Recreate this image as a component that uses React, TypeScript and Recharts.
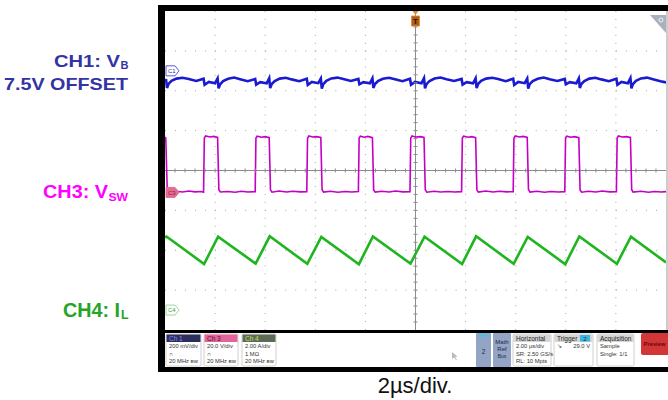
import React from 'react';
import { ComposedChart, Line, XAxis, YAxis, ReferenceLine, ReferenceDot, Scatter } from 'recharts';

// Horizontal: 2 µs/div, 10 divisions. Vertical: 8 divisions.
const TIME_TICKS = [0, 2, 4, 6, 8, 10, 12, 14, 16, 18, 20];
const DIV_TICKS = [-4, -3, -2, -1, 0, 1, 2, 3, 4];
const GRID_TIMES = [2, 4, 6, 8, 12, 14, 16, 18];
const GRID_DIVS = [-3, -2, -1, 1, 2, 3];

// Channel settings: scale per division and on-screen position (divisions)
const CH1_MV_PER_DIV = 200;
const CH1_POS = 2.5;
const CH3_V_PER_DIV = 20;
const CH3_POS = -0.55;
const CH4_A_PER_DIV = 2;
const CH4_POS = -3.5;

// CH1: V_B ripple, mV relative to the 7.5 V offset  [t µs, mV]
const ch1Trace: [number, number][] = [
  [0, -58], [0.04, -42], [0.08, -86], [0.14, -66], [0.26, -50], [0.46, -39], [0.7, -35], [0.95, -41], [1.25, -51], [1.54, -40], [1.58, -70], [1.75, -56], [2.0, -62],
  [2.1, -38], [2.14, -88], [2.2, -68], [2.32, -52], [2.52, -40], [2.76, -34], [3.0, -42], [3.3, -52], [3.6, -41], [3.64, -69], [3.8, -57], [4.06, -63],
  [4.16, -37], [4.2, -87], [4.26, -66], [4.38, -51], [4.58, -39], [4.82, -35], [5.06, -43], [5.36, -52], [5.66, -40], [5.7, -71], [5.86, -56], [6.12, -62],
  [6.22, -39], [6.26, -89], [6.32, -67], [6.44, -50], [6.64, -38], [6.88, -34], [7.12, -41], [7.42, -51], [7.72, -41], [7.76, -68], [7.92, -57], [8.18, -63],
  [8.28, -38], [8.32, -86], [8.38, -66], [8.5, -52], [8.7, -40], [8.94, -35], [9.18, -42], [9.48, -52], [9.78, -40], [9.82, -70], [9.98, -56], [10.24, -62],
  [10.34, -37], [10.38, -88], [10.44, -67], [10.56, -51], [10.76, -39], [11.0, -34], [11.24, -42], [11.54, -51], [11.84, -41], [11.88, -69], [12.04, -57], [12.3, -63],
  [12.4, -38], [12.44, -87], [12.5, -66], [12.62, -50], [12.82, -39], [13.06, -35], [13.3, -41], [13.6, -52], [13.9, -40], [13.94, -71], [14.1, -56], [14.36, -62],
  [14.46, -39], [14.5, -89], [14.56, -67], [14.68, -52], [14.88, -40], [15.12, -34], [15.36, -42], [15.66, -51], [15.96, -41], [16.0, -68], [16.16, -57], [16.42, -63],
  [16.52, -38], [16.56, -86], [16.62, -66], [16.74, -51], [16.94, -39], [17.18, -35], [17.42, -43], [17.72, -52], [18.02, -40], [18.06, -70], [18.22, -56], [18.48, -62],
  [18.58, -37], [18.62, -88], [18.68, -67], [18.8, -50], [19.0, -38], [19.24, -34], [19.48, -42], [19.78, -52], [20, -58],
];

// CH3: switch-node voltage V_SW  [t µs, V]
const ch3Trace: [number, number][] = [
  [0, 27.7], [0.03, 27.4], [0.09, 1.2], [0.14, 0.3], [0.45, 0.6], [0.7, 0.2], [0.95, 0.7], [1.2, 0.3], [1.45, 0.5], [1.54, 0.1],
  [1.57, 27.2], [1.62, 28.3], [1.8, 27.8], [1.95, 28.1], [2.1, 27.6], [2.15, 1.4], [2.21, 0.2], [2.5, 0.5], [2.8, 0.1], [3.05, 0.6], [3.3, 0.2], [3.6, 0.4],
  [3.63, 27.3], [3.68, 28.2], [3.85, 27.7], [4.0, 28.0], [4.16, 27.5], [4.21, 1.3], [4.27, 0.1], [4.55, 0.7], [4.85, 0.2], [5.1, 0.6], [5.4, 0.3], [5.66, 0.4],
  [5.69, 27.1], [5.74, 28.3], [5.9, 27.8], [6.05, 28.0], [6.22, 27.6], [6.27, 1.5], [6.33, 0.2], [6.6, 0.6], [6.9, 0.1], [7.2, 0.5], [7.45, 0.2], [7.72, 0.5],
  [7.75, 27.4], [7.8, 28.2], [7.95, 27.7], [8.1, 28.1], [8.28, 27.5], [8.33, 1.2], [8.39, 0.2], [8.65, 0.6], [8.95, 0.2], [9.2, 0.7], [9.5, 0.3], [9.78, 0.4],
  [9.81, 27.2], [9.86, 28.3], [10.0, 27.8], [10.2, 28.0], [10.34, 27.6], [10.39, 1.4], [10.45, 0.1], [10.75, 0.6], [11.0, 0.2], [11.3, 0.5], [11.55, 0.2], [11.84, 0.4],
  [11.87, 27.3], [11.92, 28.2], [12.1, 27.7], [12.25, 28.0], [12.4, 27.5], [12.45, 1.3], [12.51, 0.2], [12.8, 0.7], [13.1, 0.2], [13.35, 0.6], [13.65, 0.3], [13.9, 0.4],
  [13.93, 27.2], [13.98, 28.3], [14.15, 27.8], [14.3, 28.1], [14.46, 27.6], [14.51, 1.5], [14.57, 0.2], [14.85, 0.6], [15.15, 0.1], [15.4, 0.5], [15.7, 0.2], [15.96, 0.4],
  [15.99, 27.4], [16.04, 28.2], [16.2, 27.7], [16.35, 28.0], [16.52, 27.5], [16.57, 1.2], [16.63, 0.1], [16.9, 0.6], [17.2, 0.2], [17.45, 0.7], [17.75, 0.3], [18.02, 0.4],
  [18.05, 27.3], [18.1, 28.3], [18.25, 27.8], [18.42, 28.0], [18.58, 27.6], [18.63, 1.4], [18.69, 0.2], [19.0, 0.6], [19.3, 0.1], [19.55, 0.5], [19.8, 0.2], [20, 0.4],
];

// CH4: inductor current I_L  [t µs, A]
const ch4Trace: [number, number][] = [
  [0, 3.64], [0.06, 3.69], [1.56, 2.31], [2.12, 3.68], [3.62, 2.33], [4.18, 3.70], [5.68, 2.32], [6.24, 3.67],
  [7.74, 2.30], [8.30, 3.69], [9.80, 2.33], [10.36, 3.68], [11.86, 2.31], [12.42, 3.70], [13.92, 2.32], [14.48, 3.67],
  [15.98, 2.30], [16.54, 3.69], [18.04, 2.32], [18.60, 3.68], [20, 2.39],
];

const toRows = (pts: [number, number][], perDiv: number, pos: number) =>
  pts.map(([t, v]) => ({ t, y: pos + v / perDiv }));

const ch1Rows = toRows(ch1Trace, CH1_MV_PER_DIV, CH1_POS);
const ch3Rows = toRows(ch3Trace, CH3_V_PER_DIV, CH3_POS);
const ch4Rows = toRows(ch4Trace, CH4_A_PER_DIV, CH4_POS);

// graticule minor ticks on the centre cross (5 per division)
const minorOnHoriz = Array.from({ length: 49 }, (_, i) => ({ t: (i + 1) * 0.4, y: 0 }));
const minorOnVert = Array.from({ length: 39 }, (_, i) => ({ t: 10, y: -4 + (i + 1) * 0.2 }));

const VTick = (p: any) => (
  <line x1={p.cx} x2={p.cx} y1={p.cy - 2} y2={p.cy + 2} stroke="#8c8c8c" strokeWidth={1} />
);
const HTick = (p: any) => (
  <line x1={p.cx - 2} x2={p.cx + 2} y1={p.cy} y2={p.cy} stroke="#8c8c8c" strokeWidth={1} />
);

const ChannelTag = ({ cx, cy, label, fill, stroke, text }: any) => (
  <g>
    <polygon
      points={`${cx + 1},${cy - 5} ${cx + 10},${cy - 5} ${cx + 14},${cy} ${cx + 10},${cy + 5} ${cx + 1},${cy + 5}`}
      fill={fill}
      stroke={stroke}
      strokeWidth={1}
    />
    <text x={cx + 3} y={cy + 2.2} fontSize={6} fontFamily="Liberation Sans, Arial" fill={text}>
      {label}
    </text>
  </g>
);

const TriggerMark = (p: any) => (
  <g>
    <polygon points={`${p.cx - 3},${p.cy} ${p.cx + 3},${p.cy} ${p.cx},${p.cy + 4}`} fill="#e8882a" />
    <rect x={p.cx - 4} y={p.cy + 5} width={8} height={10} fill="#a8601c" stroke="#e8882a" strokeWidth={0.8} />
    <text x={p.cx} y={p.cy + 13} fontSize={8} fontWeight="bold" textAnchor="middle" fontFamily="Liberation Sans, Arial" fill="#2a1400">
      T
    </text>
  </g>
);

const MONO = 'Liberation Sans Narrow, Liberation Sans, Arial';

const InfoBox = ({ x, w, title, headFill, headText, lines }: any) => (
  <g>
    <rect x={x} y={334} width={w} height={32} rx={1.5} fill="#ffffff" stroke="#c4c4c4" strokeWidth={0.8} />
    <rect x={x + 0.5} y={334.5} width={w - 1} height={7.5} fill={headFill} />
    <text x={x + 3} y={340.5} fontSize={6.5} fontFamily={MONO} fill={headText}>
      {title}
    </text>
    {lines.map((s: string, i: number) => (
      <text key={i} x={x + 3} y={348 + i * 7.5} fontSize={5.8} fontFamily={MONO} fill="#333">
        {s}
      </text>
    ))}
  </g>
);

const Overlay = () => (
  <svg width={668} height={400} style={{ position: 'absolute', left: 0, top: 0, pointerEvents: 'none' }}>
    {/* scope frame */}
    <rect x={158} y={5} width={510} height={6} fill="#000" />
    <rect x={158} y={5} width={7} height={367} fill="#000" />
    <rect x={158} y={330} width={510} height={3} fill="#000" />
    <rect x={158} y={367} width={510} height={5} fill="#000" />
    <line x1={667} y1={11} x2={667} y2={330} stroke="#9a9a9a" strokeWidth={1} />
    {/* zoom corner */}
    <polygon points="650,15 666,15 666,33" fill="#a9b1bd" />
    <circle cx={661} cy={20} r={2} fill="none" stroke="#fff" strokeWidth={0.8} />

    {/* info bar */}
    <InfoBox x={166} w={35} title="Ch 1" headFill="#2c2e5c" headText="#8c8cff" lines={['200 mV/div', '∩', '20 MHz ʙᴡ']} />
    <InfoBox x={204} w={34} title="Ch 3" headFill="#e2649a" headText="#5a1030" lines={['20.0 V/div', '∩', '20 MHz ʙᴡ']} />
    <InfoBox x={242} w={34} title="Ch 4" headFill="#5c6a58" headText="#c8e050" lines={['2.00 A/div', '1 MΩ', '20 MHz ʙᴡ']} />
    <path d="M452,352 L452,359 L454,357.5 L456,360 L457,359.5 L455,357 L457.5,356.5 Z" fill="#bbb" />
    <rect x={476} y={333} width={15} height={34} rx={1} fill="#94a4c4" />
    <rect x={478} y={335} width={11} height={1.6} fill="#34c8e8" />
    <text x={483.5} y={354} fontSize={6.5} textAnchor="middle" fontFamily={MONO} fill="#1c2444">2</text>
    <rect x={493} y={333} width={18} height={34} rx={1} fill="#94a4c4" />
    <text x={502} y={344} fontSize={6} textAnchor="middle" fontFamily={MONO} fill="#1c2444">Math</text>
    <text x={502} y={351} fontSize={6} textAnchor="middle" fontFamily={MONO} fill="#1c2444">Ref</text>
    <text x={502} y={358} fontSize={5} textAnchor="middle" fontFamily={MONO} fill="#1c2444">Bus</text>
    <InfoBox x={513} w={38} title="Horizontal" headFill="#d6d6d6" headText="#222" lines={['2.00 µs/div', 'SR: 2.50 GS/s', 'RL: 10 Mpts']} />
    <InfoBox x={554} w={39} title="Trigger" headFill="#d6d6d6" headText="#222" lines={['↘', '']} />
    <rect x={580} y={335} width={10} height={6.5} fill="#3ab4e0" />
    <text x={585} y={340.5} fontSize={6} textAnchor="middle" fontFamily={MONO} fill="#103050">2</text>
    <text x={590} y={348} fontSize={5.8} textAnchor="end" fontFamily={MONO} fill="#333">29.0 V</text>
    <InfoBox x={597} w={37} title="Acquisition" headFill="#d6d6d6" headText="#222" lines={['Sample', 'Single: 1/1']} />
    <rect x={641} y={333} width={30} height={22} rx={2} fill="#d23636" />
    <text x={643.5} y={346} fontSize={6} fontWeight="bold" fontFamily={MONO} fill="#6a0808" textLength={22} lengthAdjust="spacingAndGlyphs">Preview</text>

    {/* channel captions */}
    <g fontFamily="Liberation Sans, Arial" fontWeight="bold">
      <text x={54} y={67.3} fontSize={17} fill="#3333a3" textLength={66} lengthAdjust="spacingAndGlyphs">CH1: V</text>
      <text x={120.5} y={69.3} fontSize={11.5} fill="#3333a3" textLength={8} lengthAdjust="spacingAndGlyphs">B</text>
      <text x={4} y={90} fontSize={17} fill="#3333a3" textLength={124} lengthAdjust="spacingAndGlyphs">7.5V OFFSET</text>
      <text x={43} y={198.3} fontSize={18} fill="#ff00ff" textLength={65} lengthAdjust="spacingAndGlyphs">CH3: V</text>
      <text x={108.5} y={200.7} fontSize={11.5} fill="#ff00ff" textLength={19.5} lengthAdjust="spacingAndGlyphs">SW</text>
      <text x={63} y={316.5} fontSize={19.5} fill="#25a525" textLength={57} lengthAdjust="spacingAndGlyphs">CH4: I</text>
      <text x={121} y={318.5} fontSize={12} fill="#25a525" textLength={7.5} lengthAdjust="spacingAndGlyphs">L</text>
    </g>

    {/* time base caption */}
    <text x={415} y={393} fontSize={22} textAnchor="middle" fontFamily="Liberation Sans, Arial" fill="#111">
      2µs/div.
    </text>
  </svg>
);

export default function App() {
  return (
    <div style={{ position: 'absolute', left: 0, top: 0, width: 668, height: 400, background: '#fff', overflow: 'hidden' }}>
      <ComposedChart width={668} height={400} margin={{ top: 11, right: 2, bottom: 70, left: 165 }}>
        <XAxis type="number" dataKey="t" domain={[0, 20]} ticks={TIME_TICKS} hide allowDataOverflow />
        <YAxis type="number" dataKey="y" domain={[-4, 4]} ticks={DIV_TICKS} hide allowDataOverflow />
        {GRID_TIMES.map((t) => (
          <ReferenceLine key={`gx${t}`} x={t} stroke="#a4a4a4" strokeDasharray="1 6.95" />
        ))}
        {GRID_DIVS.map((d) => (
          <ReferenceLine key={`gy${d}`} y={d} stroke="#a4a4a4" strokeDasharray="1 9.02" />
        ))}
        <ReferenceLine x={10} stroke="#8c8c8c" strokeWidth={1} />
        <ReferenceLine y={0} stroke="#8c8c8c" strokeWidth={1} />
        <Scatter data={minorOnHoriz} dataKey="y" shape={VTick} isAnimationActive={false} />
        <Scatter data={minorOnVert} dataKey="y" shape={HTick} isAnimationActive={false} />

        <Line data={ch1Rows} dataKey="y" type="linear" stroke="#1a1ad0" strokeWidth={2.6} dot={false} isAnimationActive={false} />
        <Line data={ch3Rows} dataKey="y" type="linear" stroke="#c400c4" strokeWidth={1.6} dot={false} isAnimationActive={false} />
        <Line data={ch4Rows} dataKey="y" type="linear" stroke="#1fb51f" strokeWidth={2.6} dot={false} isAnimationActive={false} />

        <ReferenceDot x={0} y={CH1_POS} r={0} ifOverflow="visible"
          shape={(p: any) => <ChannelTag cx={p.cx} cy={p.cy} label="C1" fill="#ffffff" stroke="#5a5ad8" text="#3030c0" />} />
        <ReferenceDot x={0} y={CH3_POS} r={0} ifOverflow="visible"
          shape={(p: any) => <ChannelTag cx={p.cx} cy={p.cy} label="C3" fill="#e56b93" stroke="#e56b93" text="#8a1a40" />} />
        <ReferenceDot x={0} y={CH4_POS} r={0} ifOverflow="visible"
          shape={(p: any) => <ChannelTag cx={p.cx} cy={p.cy} label="C4" fill="#ffffff" stroke="#9ad89a" text="#3a9a3a" />} />
        <ReferenceDot x={10} y={4} r={0} ifOverflow="visible" shape={TriggerMark} />
      </ComposedChart>
      <Overlay />
    </div>
  );
}
